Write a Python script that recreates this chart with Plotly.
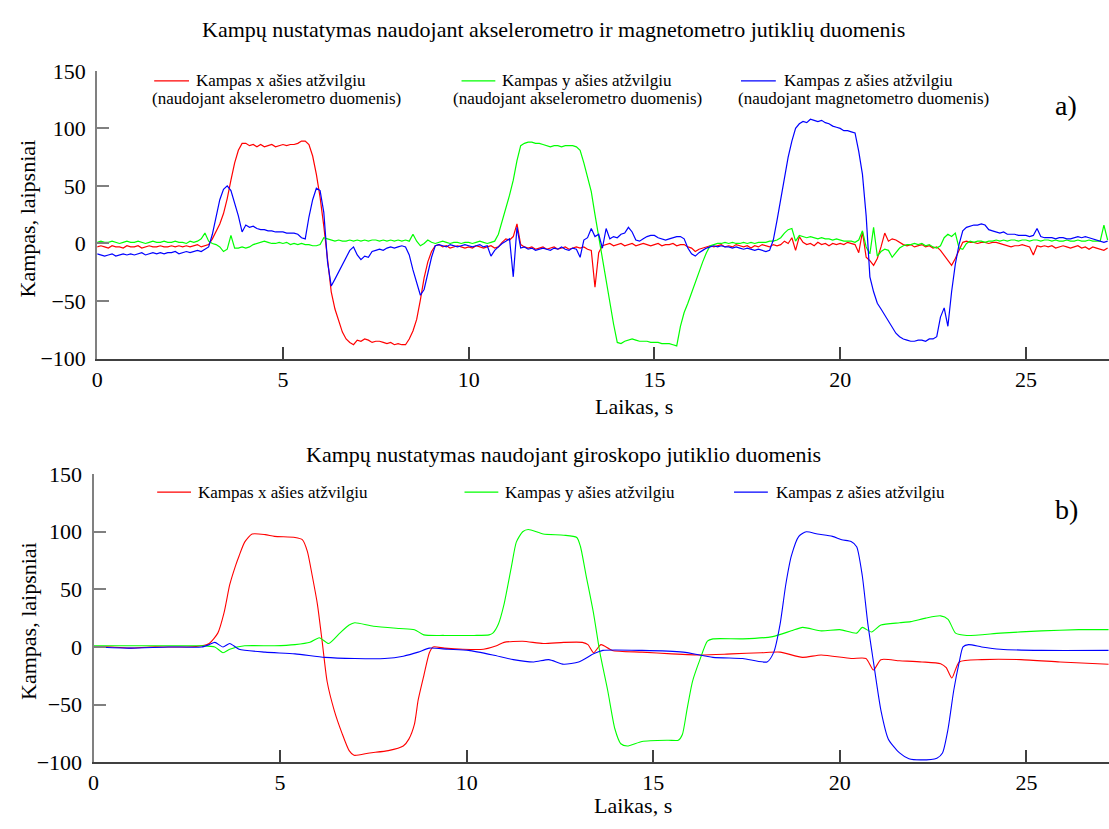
import plotly.graph_objects as go

# ---------------- DATA ----------------
# Panel a: sampled every 0.1 s from 0.0 to 27.2 s
ta_start, ta_step, ta_count = 0.0, 0.1, 273

red_a = [
    -3, -2, -3, -4, -2, -3, -3, -4, -2, -3,
    -3, -2, -4, -3, -2, -3, -3, -2, -3, -3,
    -2, -3, -2, -3, -2, -3, -2, -1, -3, -2,
    -1, 4, 10, 17, 26, 39, 55, 70, 81, 87,
    87, 85, 86, 84, 86, 84, 85, 86, 84, 85,
    86, 85, 86, 86, 87, 89, 89, 86, 76, 60,
    40, 15, -15, -42, -57, -68, -77, -83, -86, -88,
    -84, -85, -83, -84, -86, -85, -85, -86, -87, -86,
    -88, -87, -88, -88, -83, -76, -66, -49, -30, -16,
    -7, -2, -1, -3, -2, -4, -3, -2, -3, -4,
    -3, -4, -2, -3, -4, -3, -2, -4, -3, 1,
    4, 3, 6, 17, -1, -3, -4, -3, -5, -4,
    -3, -5, -4, -3, -5, -4, -3, -5, -4, -3,
    -4, -3, -5, -6, -38, -8, -2, -1, 0, -2,
    -1, 0, -2, -1, 0, -2, -1, 0, -1, -2,
    -1, 0, -2, -1, -1, 0, -2, -1, -1, -3,
    -4, -7, -5, -4, -3, -2, -3, -2, -1, -3,
    -2, -3, -1, -2, -3, -2, -4, -2, -3, -1,
    -2, -3, -1, -2, -1, 2, 0, 5, -6, 6,
    1, -1, 0, -2, 1, -1, 0, -2, 0, -1,
    0, -1, 1, 0, -1, -8, 10, -12, -15, -19,
    -13, -3, 9, 2, 4, 3, 1, -1, -2, -1,
    -3, -2, -1, -3, -2, -4, -3, -6, -10, -14,
    -19, -13, -6, 1, 2, 1, 1, 0, 1, 1,
    0, 1, 1, 0, -1, -2, -3, -2, -2, -1,
    -2, -3, -10, -2, -3, -2, -3, -2, -4, -3,
    -2, -3, -4, -3, -2, -4, -3, -5, -3, -4,
    -5, -6, -4,
]

green_a = [
    1, 2, 1, 1, 2, 1, 0, 1, 2, 1,
    1, 2, 1, 0, 1, 2, 1, 1, 2, 1,
    1, 2, 1, 1, 0, 2, 1, 2, 4, 9,
    2, 0, -1, -3, -7, -5, 7, -4, -4, -3,
    -4, -3, -1, 0, 1, 2, 1, 0, 0, 1,
    0, 1, -1, 0, -1, 0, -1, -1, -2, -2,
    -1, 5, 4, 3, 2, 3, 2, 2, 3, 2,
    3, 2, 3, 2, 3, 3, 2, 3, 2, 3,
    2, 3, 2, 3, 2, 8, 2, -2, 0, 3,
    1, 0, 1, 2, 1, 0, 1, 1, 0, 1,
    1, 0, 1, 2, 1, 0, 1, 2, 8, 19,
    32, 42, 55, 72, 85, 87, 88, 88, 87, 87,
    86, 85, 84, 85, 85, 84, 85, 85, 85, 84,
    81, 70, 58, 45, 25, 6, -12, -32, -52, -70,
    -86, -87, -85, -84, -83, -84, -85, -85, -85, -86,
    -86, -86, -87, -87, -87, -88, -89, -72, -60, -52,
    -43, -33, -24, -16, -8, -2, -1, 0, 0, 1,
    0, 1, 0, 0, 1, 0, 1, 0, 1, 1,
    1, 2, 2, 3, 5, 9, 12, 13, 2, 7,
    6, 5, 6, 5, 4, 5, 4, 4, 3, 4,
    3, 2, 2, 2, 1, 3, 11, -3, -9, 14,
    -11, -7, -5, -6, -12, -8, -4, -2, -1, -1,
    0, -1, 0, -2, -1, -3, -4, -2, 5, 8,
    6, 9, -4, -5, 0, 2, 1, 2, 2, 1,
    2, 2, 3, 2, 3, 2, 3, 3, 2, 3,
    3, 2, 3, 3, 2, 3, 3, 2, 3, 2,
    2, 3, 2, 2, 3, 2, 2, 3, 2, 2,
    2, 16, 3,
]

blue_a = [
    -9, -10, -11, -10, -9, -11, -10, -9, -10, -9,
    -10, -9, -8, -10, -9, -8, -9, -8, -9, -8,
    -8, -7, -9, -8, -7, -8, -7, -6, -7, -5,
    -3, 8, 24, 38, 47, 50, 46, 36, 24, 10,
    16, 14, 15, 13, 12, 12, 11, 11, 10, 10,
    10, 9, 9, 9, 8, 5, 4, 23, 38, 48,
    46, 27, -16, -37, -31, -25, -19, -12, -6, -3,
    -10, -14, -11, -12, -7, -6, -5, -6, -4, -3,
    -4, -3, -2, -3, -10, -23, -35, -45, -40, -27,
    -12, -2, -1, -2, -3, -1, -2, -3, -2, -1,
    -2, -3, -2, -1, -3, -2, -11, -6, -3, 0,
    2, 4, -29, 14, -4, -3, -5, -4, -6, -5,
    -4, -5, -6, -4, -5, -3, -5, -6, -4, -5,
    -12, 3, 5, 13, 6, 8, -4, 13, 4, 6,
    5, 8, 9, 14, 10, 3, 2, 4, 6, 7,
    7, 5, 4, 3, 4, 5, 6, 6, 4, -4,
    -9, -11, -8, -6, -4, -3, -2, -3, -2, -3,
    -3, -4, -3, -4, -5, -4, -5, -6, -5, -6,
    -7, -6, 3, 20, 39, 58, 75, 89, 100, 104,
    106, 105, 108, 107, 106, 107, 105, 104, 102, 101,
    100, 98, 98, 97, 96, 80, 60, 24, -29, -42,
    -52, -57, -62, -68, -73, -78, -81, -83, -84, -85,
    -85, -84, -84, -85, -83, -83, -81, -64, -56, -72,
    -42, -18, -1, 11, 14, 15, 16, 16, 17, 16,
    12, 11, 10, 9, 10, 8, 8, 8, 7, 7,
    7, 6, 7, 13, 6, 5, 5, 5, 4, 5,
    5, 4, 4, 5, 6, 5, 6, 5, 4, 3,
    2, 1, 2,
]

# Panel b: (time, value) readings
t_red_b = [0, 0.5, 1.0, 1.5, 2.0, 2.5, 2.9, 3.1, 3.33, 3.5, 3.65, 3.8, 3.9, 4.05, 4.25,
           4.6, 4.85, 5.4, 5.6, 5.73, 5.86, 6.0, 6.13, 6.26, 6.45, 6.66, 6.85, 6.98, 7.4,
           7.9, 8.3, 8.45, 8.6, 8.7, 8.85, 9.0, 9.1, 9.4, 9.9, 10.45, 10.8, 11.0, 11.5,
           12.05, 12.6, 13.1, 13.25, 13.4, 13.6, 13.9, 14.7, 15.5, 16.3, 17.1, 17.9, 18.4,
           19.0, 19.5, 20.3, 20.7, 20.9, 21.1, 21.6, 22.2, 22.7, 22.85, 23.0, 23.2, 23.8,
           24.85, 25.9, 27.2]
v_red_b = [0, 0, -1, 0, 0, 0, 1, 3, 12, 30, 54, 70, 79, 91, 98,
           97.5, 96, 95, 93, 83, 62, 37, 4, -30, -55, -75, -90, -94, -92,
           -90, -86, -80, -67, -46, -25, -5, 0, -1, -2, -2, 1, 4, 5,
           3, 4, 4, 2, -5, 2, -3, -4.5, -6, -7, -6, -5, -4.5,
           -9, -7, -10, -10, -20, -11, -12, -13, -14.5, -18, -27, -13, -11,
           -11, -13, -15]

t_green_b = [0, 1.0, 2.0, 2.9, 3.25, 3.47, 3.65, 4.05, 4.85, 5.4, 5.8, 6.05, 6.3, 6.6,
             6.85, 7.0, 7.5, 8.2, 8.6, 8.85, 9.4, 10.2, 10.6, 10.7, 10.85, 11.0, 11.2,
             11.33, 11.5, 11.65, 12.05, 12.6, 12.95, 13.05, 13.2, 13.4, 13.57, 13.78,
             13.97, 14.13, 14.3, 14.7, 15.4, 15.67, 15.78, 15.9, 16.05, 16.25, 16.45,
             16.6, 17.4, 18.2, 18.7, 19.0, 19.5, 20.0, 20.45, 20.6, 20.85, 21.1, 21.6,
             21.9, 22.3, 22.7, 22.9, 23.1, 23.4, 24.3, 25.4, 26.4, 27.2]
v_green_b = [1, 1, 1, 1, 0, -5, -2, 1, 1, 2, 4, 8, 3, 12,
             19, 21, 18, 16, 15, 10.5, 10, 10, 10.5, 12, 20, 37, 70,
             91, 100, 102, 98, 97, 95, 87, 62, 29, -5, -38,
             -71, -84, -86, -82, -81, -81, -76, -55, -30, -11, 5,
             7, 7, 9, 14, 17, 14, 15, 12, 17, 13, 19, 21,
             22, 25, 27, 24, 12, 10, 12, 14, 15, 15]

t_blue_b = [0, 1.0, 2.0, 2.9, 3.1, 3.25, 3.47, 3.65, 3.9, 4.6, 5.4, 6.2, 7.0, 7.8, 8.3,
            8.7, 9.0, 9.5, 10.05, 10.7, 11.25, 11.8, 12.2, 12.6, 13.0, 13.4, 13.65, 14.7,
            15.8, 16.6, 17.4, 18.05, 18.23, 18.4, 18.55, 18.7, 18.9, 19.1, 19.4, 19.8,
            20.05, 20.3, 20.45, 20.6, 20.75, 20.9, 21.1, 21.3, 21.6, 21.85, 22.17, 22.6,
            22.75, 22.9, 23.05, 23.2, 23.3, 23.45, 23.8, 24.3, 25.4, 27.2]
v_blue_b = [0, -1, 0, 0, 2, 4, 0, 3, -2, -4.5, -6, -9, -10, -10, -8,
            -4.5, -1, -2, -3, -7, -11, -13, -11, -15, -13, -6, -3, -3,
            -4.5, -9, -10, -13, -4.5, 20, 54, 79, 96, 100, 98, 96,
            93, 91.5, 87, 62, 20, -13, -55, -80, -92, -97, -98, -96.5,
            -92, -71, -38, -13, 0, 2, 0, -2, -3, -3]

title_a = "Kampų nustatymas naudojant akselerometro ir magnetometro jutiklių duomenis"
title_b = "Kampų nustatymas naudojant giroskopo jutiklio duomenis"
legend_a = [("Kampas x ašies atžvilgiu", "(naudojant akselerometro duomenis)"),
            ("Kampas y ašies atžvilgiu", "(naudojant akselerometro duomenis)"),
            ("Kampas z ašies atžvilgiu", "(naudojant magnetometro duomenis)")]
legend_b = ["Kampas x ašies atžvilgiu", "Kampas y ašies atžvilgiu", "Kampas z ašies atžvilgiu"]
x_title = "Laikas, s"
y_title = "Kampas, laipsniai"
x_ticks = [0, 5, 10, 15, 20, 25]
y_ticks = [-100, -50, 0, 50, 100, 150]

# ---------------- FIGURE ----------------
W, H = 1109, 829
FONT = "Liberation Serif, Times New Roman, serif"
colors = ["#ff0000", "#00ff00", "#0000ff"]

ta = [round(ta_start + i * ta_step, 2) for i in range(ta_count)]

fig = go.Figure()
for vals, c in zip([red_a, green_a, blue_a], colors):
    fig.add_trace(go.Scatter(x=ta, y=vals, mode="lines", line=dict(color=c, width=1.2),
                             xaxis="x", yaxis="y", showlegend=False, hoverinfo="skip"))
for tt, vals, c in zip([t_red_b, t_green_b, t_blue_b], [v_red_b, v_green_b, v_blue_b], colors):
    fig.add_trace(go.Scatter(x=tt, y=vals, mode="lines",
                             line=dict(color=c, width=1.1, shape="spline", smoothing=0.6),
                             xaxis="x2", yaxis="y2", showlegend=False, hoverinfo="skip"))

def px(x):
    return x / W

def py(y):
    return 1 - y / H

xcommon = dict(tickvals=x_ticks, ticks="inside", ticklen=12, tickwidth=1.5, tickcolor="#404040",
               showline=True, linecolor="#404040", linewidth=1.5, showgrid=False, zeroline=False,
               tickfont=dict(family=FONT, size=22, color="black"), ticklabelstandoff=0,
               mirror=False)
ycommon = dict(tickvals=y_ticks, ticks="inside", ticklen=12, tickwidth=1.5, tickcolor="#808080",
               showline=True, linecolor="#808080", linewidth=2, showgrid=False, zeroline=False,
               tickfont=dict(family=FONT, size=22, color="black"), ticklabelstandoff=5,
               range=[-100, 150])

fig.update_layout(
    width=W, height=H, margin=dict(l=0, r=0, t=0, b=0),
    paper_bgcolor="white", plot_bgcolor="white",
    font=dict(family=FONT, color="black"),
    xaxis=dict(domain=[px(91.7), 1.0], range=[0, (W - 91.7) / 37.35], anchor="y", **xcommon),
    yaxis=dict(domain=[py(357.3), py(60.7)], anchor="x", **ycommon),
    xaxis2=dict(domain=[px(88), 1.0], range=[0, (W - 88) / 37.52], anchor="y2", **xcommon),
    yaxis2=dict(domain=[py(773.5), py(476.5)], anchor="x2", **ycommon),
)

ann = []
def text(x, y, s, size, xanchor="center", angle=0):
    ann.append(dict(x=px(x), y=py(y), xref="paper", yref="paper", text=s, showarrow=False,
                    xanchor=xanchor, yanchor="middle", textangle=angle,
                    font=dict(family=FONT, size=size, color="black")))

text(550, 18, title_a, 22)
text(561, 456, title_b, 22)
text(631, 407, x_title, 22)
text(630, 818, x_title, 22)
text(22, 213, y_title, 22, angle=-90)
text(22, 628, y_title, 22, angle=-90)
text(1066, 96, "a)", 28)
text(1066, 513, "b)", 28)

shapes = []
# legend a
la_lines = [(149, 184), (458, 492), (739, 774)]
la_text_x = [189, 497, 780]
la_line2_x = [272, 575, 862]
for (x0, x1), tx, t2x, (l1, l2), c in zip(la_lines, la_text_x, la_line2_x, legend_a, colors):
    shapes.append(dict(type="line", xref="paper", yref="paper", x0=px(x0), x1=px(x1),
                       y0=py(71), y1=py(71), line=dict(color=c, width=1.2)))
    text(tx, 71, l1, 17, xanchor="left")
    text(t2x, 89, l2, 17)
# legend b
lb_lines = [(152, 186), (461, 495), (732, 766)]
lb_text_x = [191, 500, 772]
for (x0, x1), tx, l1, c in zip(lb_lines, lb_text_x, legend_b, colors):
    shapes.append(dict(type="line", xref="paper", yref="paper", x0=px(x0), x1=px(x1),
                       y0=py(495), y1=py(495), line=dict(color=c, width=1.2)))
    text(tx, 495, l1, 17, xanchor="left")

fig.update_layout(annotations=ann, shapes=shapes)
fig.write_html("out.html")
